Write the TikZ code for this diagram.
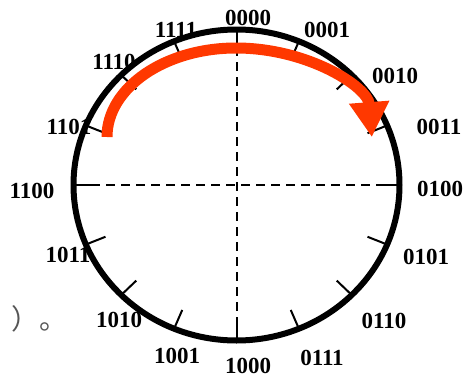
\documentclass[tikz,border=0pt]{standalone}
\usepackage{fontspec}
\setmainfont{Liberation Serif}
\newfontfamily\cjk{Noto Sans CJK SC}
\usepackage{tikz}
\usetikzlibrary{arrows.meta, calc}
\definecolor{ArrowRed}{RGB}{255, 56, 0}
\definecolor{NoteGray}{RGB}{85, 85, 85}
\tikzset{
	lbl/.style={font=\fontsize{23}{23}\selectfont\bfseries, inner sep=0pt},
	ring/.style={line width=6pt},
	tick/.style={line width=2pt},
	axis/.style={line width=2pt, dash pattern=on 9pt off 6pt},
	turn/.style={ArrowRed, line width=11pt, -{Triangle[length=35pt, width=38pt]}}
}

\begin{document}
\begin{tikzpicture}[x=1pt, y=-1pt]
		\useasboundingbox (0,0) rectangle (464,378);
		\coordinate (O) at (236.5,185);
		% labels
		\foreach \t/\x/\y in {0000/248/18, 0001/327/30, 0010/395/76, 0011/439/127,
			0100/440/189, 0101/426/257, 0110/384/321, 0111/322/358,
			1000/248/366, 1001/177/356, 1010/119/320, 1011/68/255,
			1100/32/191, 1101/69/127, 1110/114/62, 1111/176/30}
		\node[lbl] (l\t) at (\x,\y) {\t};
		\node[NoteGray, font=\cjk\fontsize{28}{28}\selectfont, inner sep=0pt, anchor=west] (note) at (-45,319) {（　）。};
		% axes
		\coordinate (L) at (76,185);
		\coordinate (R) at (397,185);
		\coordinate (U) at (236.5,32);
		\coordinate (D) at (236.5,338);
		\draw[axis] (L) -- (R);
		\draw[axis] (U) -- (D);
		% ticks
		\foreach \k in {0,...,15}
		\draw[tick] ($(O)+({163*cos(90-22.5*\k)},{-155.5*sin(90-22.5*\k)})$)
			-- ($(O)+({0.87*163*cos(90-22.5*\k)},{-0.87*155.5*sin(90-22.5*\k)})$);
		\draw[ring] (O) ellipse [x radius=163, y radius=155.5];
		% arrow
		\coordinate (S) at (107,137);
		\draw[turn] (S) arc [start angle=180, end angle=270, x radius=129, y radius=89]
			arc [start angle=270, end angle=357, x radius=136, y radius=94];
	\end{tikzpicture}
\end{document}
